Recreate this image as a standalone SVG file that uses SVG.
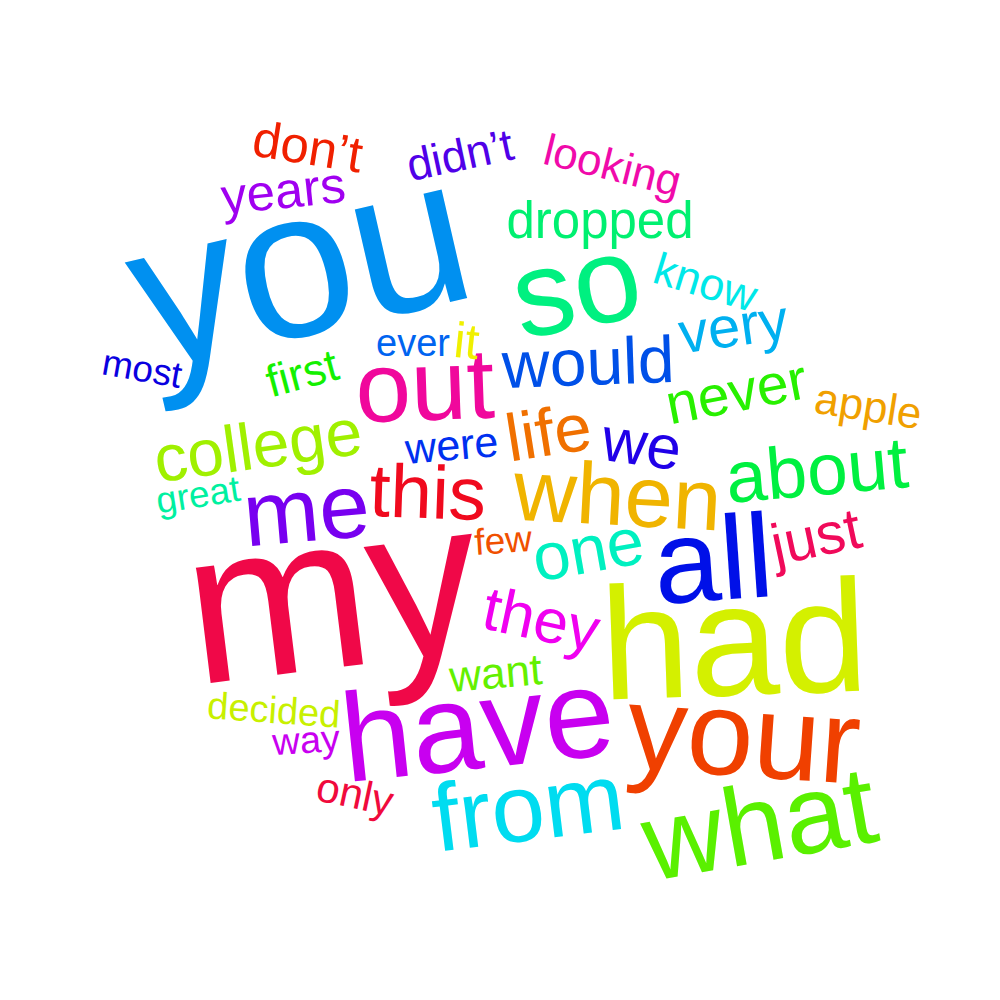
<svg xmlns="http://www.w3.org/2000/svg" width="1000" height="1000" viewBox="0 0 1000 1000">
<style>
text{font-family:"Liberation Sans",Arial,sans-serif;text-anchor:middle}
</style>
<rect width="1000" height="1000" fill="#fff"/>
<g id="words">
<text transform="translate(315,333) rotate(-13)" font-size="211" fill="#0090F0">you</text>
<text transform="translate(341,667) rotate(-7)" font-size="220" fill="#F00848">my</text>
<text transform="translate(736,695) rotate(-2)" font-size="160" fill="#D4F000">had</text>
<text transform="translate(482,768) rotate(-6)" font-size="126" fill="#C800F0">have</text>
<text transform="translate(741,776) rotate(4)" font-size="120" fill="#F04000">your</text>
<text transform="translate(766,861) rotate(-10)" font-size="111" fill="#5AF000">what</text>
<text transform="translate(532,840) rotate(-7)" font-size="96" fill="#00DCF0">from</text>
<text transform="translate(716,600) rotate(-4)" font-size="119" fill="#0010E8">all</text>
<text transform="translate(584,327) rotate(-11)" font-size="121" fill="#00F080">so</text>
<text transform="translate(426,420) rotate(-2)" font-size="100" fill="#F0089C">out</text>
<text transform="translate(589,385) rotate(-2)" font-size="66" fill="#0050E8">would</text>
<text transform="translate(736,346) rotate(-8)" font-size="58" fill="#00B0F0">very</text>
<text transform="translate(701,297) rotate(17)" font-size="45" fill="#00E8E8">know</text>
<text transform="translate(600,238)" font-size="51" fill="#00F070">dropped</text>
<text transform="translate(609,180) rotate(14)" font-size="44" fill="#F00AAA">looking</text>
<text transform="translate(463,170) rotate(-12)" font-size="45" fill="#5000E8">didn’t</text>
<text transform="translate(305,164) rotate(9)" font-size="51" fill="#F02000">don’t</text>
<text transform="translate(285,208) rotate(-6)" font-size="51" fill="#A000F0">years</text>
<text transform="translate(140,381) rotate(10)" font-size="37" fill="#0A00E0">most</text>
<text transform="translate(413,356)" font-size="38" fill="#0064F0">ever</text>
<text transform="translate(465,358) rotate(6)" font-size="50" fill="#F0F000">it</text>
<text transform="translate(306,388) rotate(-15)" font-size="45" fill="#14F000">first</text>
<text transform="translate(261,468) rotate(-8)" font-size="66" fill="#A0F000">college</text>
<text transform="translate(200,507) rotate(-9)" font-size="37" fill="#00F0A0">great</text>
<text transform="translate(309,541) rotate(-5)" font-size="91" fill="#7800F0">me</text>
<text transform="translate(427,518) rotate(2)" font-size="75" fill="#F00A1E">this</text>
<text transform="translate(453,460) rotate(-5)" font-size="43" fill="#0030F0">were</text>
<text transform="translate(552,455) rotate(-9)" font-size="67" fill="#F07000">life</text>
<text transform="translate(639,465) rotate(8)" font-size="62" fill="#2000E8">we</text>
<text transform="translate(616,525) rotate(3)" font-size="87" fill="#F0B400">when</text>
<text transform="translate(819,495) rotate(-5)" font-size="73" fill="#00F040">about</text>
<text transform="translate(820,556) rotate(-12)" font-size="58" fill="#F00A5A">just</text>
<text transform="translate(592,572) rotate(-10)" font-size="67" fill="#00F0C0">one</text>
<text transform="translate(504,553) rotate(-4)" font-size="37" fill="#F05000">few</text>
<text transform="translate(537,640) rotate(12)" font-size="62" fill="#F000F0">they</text>
<text transform="translate(497,688) rotate(-5)" font-size="44" fill="#64F000">want</text>
<text transform="translate(273,723) rotate(4)" font-size="38" fill="#C8F000">decided</text>
<text transform="translate(307,753) rotate(-4)" font-size="38" fill="#C800F0">way</text>
<text transform="translate(352,808) rotate(12)" font-size="42" fill="#F00A3C">only</text>
<text transform="translate(866,421) rotate(9)" font-size="44" fill="#F0A000">apple</text>
<text transform="translate(740,411) rotate(-11)" font-size="57" fill="#28F000">never</text>
</g>
</svg>
